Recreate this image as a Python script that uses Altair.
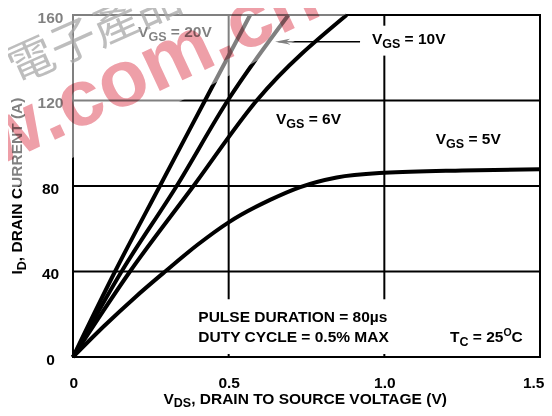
import altair as alt
import pandas as pd

# ---------------- data ----------------
id_levels = [0, 40, 80, 120, 160]
vds_20v = [0, 0.135, 0.279, 0.424, 0.569]
vds_10v = [0, 0.156, 0.333, 0.497, 0.692]
vds_6v = [0, 0.183, 0.387, 0.590, 0.879]
vds_5v = [0, 0.1, 0.2, 0.296, 0.4, 0.5, 0.633, 0.73, 0.847, 1.0, 1.25, 1.5]
id_5v = [0, 14.5, 28.0, 40, 52.5, 63.0, 73.5, 79.5, 84.0, 86.2, 87.3, 87.8]

x_ticks = [0, 0.5, 1.0, 1.5]
y_ticks = [0, 40, 80, 120, 160]

# grid segments (gridlines are interrupted behind the text boxes)
grid_x = [0, 0, 0, 0.5, 0.5, 1.0, 1.0, 1.0]
grid_x2 = [1.5, 1.5, 1.5, 0.5, 0.5, 1.0, 1.0, 1.0]
grid_y = [40, 80, 120, 27, 0, 27, 155, 0]
grid_y2 = [40, 80, 120, 160, 1.4, 141, 160, 1.4]

FONT = "Liberation Sans"
ADV = {' ': 278, ',': 278, '.': 278, '=': 584, '(': 333, ')': 333, '%': 889,
       'µ': 611, 's': 556,
       'A': 722, 'B': 722, 'C': 722, 'D': 722, 'E': 667, 'F': 611, 'G': 778,
       'H': 722, 'I': 278, 'J': 556, 'K': 722, 'L': 611, 'M': 833, 'N': 722,
       'O': 778, 'P': 667, 'Q': 778, 'R': 722, 'S': 667, 'T': 611, 'U': 722,
       'V': 667, 'W': 944, 'X': 667, 'Y': 667, 'Z': 611}
for d in "0123456789":
    ADV[d] = 556


def tw(s, size):
    return sum(ADV.get(c, 600) for c in s) * size / 1000.0


one = pd.DataFrame({"a": [0]})


def rich(pieces, x, y, angle=None, center=False):
    total = sum(tw(t, s) for t, s, _ in pieces)
    off = -total / 2 if center else 0
    out = []
    for t, s, dy in pieces:
        lead = len(t) - len(t.lstrip(" "))
        off += tw(" " * lead, s)
        t2 = t.lstrip(" ")
        props = dict(text=t2, fontSize=s, font=FONT, fontWeight="bold",
                     align="left", baseline="alphabetic", dx=off, dy=dy,
                     color="black")
        if angle is not None:
            props["angle"] = angle
        out.append(alt.Chart(one).mark_text(**props).encode(x=x, y=y))
        off += tw(t2, s)
    return out


curves = pd.DataFrame({
    "vds": vds_20v + vds_10v + vds_6v + vds_5v,
    "id": id_levels * 3 + id_5v,
    "vgs": ["20V"] * 5 + ["10V"] * 5 + ["6V"] * 5 + ["5V"] * len(vds_5v),
})

xscale = alt.Scale(domain=[0, 1.5], nice=False, zero=True)
yscale = alt.Scale(domain=[0, 160], nice=False)

grid = alt.Chart(pd.DataFrame({"x": grid_x, "x2": grid_x2, "y": grid_y, "y2": grid_y2})).mark_rule(
    color="black", strokeWidth=2
).encode(
    x=alt.X("x:Q", scale=xscale, title=None,
            axis=alt.Axis(values=x_ticks, labelExpr="datum.value == 0 ? '0' : format(datum.value, '.1f')",
                          labelPadding=18, labelBaseline="top", labelFlush=True, labelFlushOffset=4)),
    x2="x2:Q",
    y=alt.Y("y:Q", scale=yscale, title=None,
            axis=alt.Axis(values=y_ticks, labelAlign="center", labelPadding=23, labelBaseline="middle",
                          labelOffset=2)),
    y2="y2:Q",
)

lines = alt.Chart(curves).mark_line(color="black", strokeWidth=4, interpolate="monotone").encode(
    x=alt.X("vds:Q", scale=xscale, title=None),
    y=alt.Y("id:Q", scale=yscale, title=None),
    detail="vgs:N",
)

layers = [grid, lines]

MS, SS = 15.5, 12.5
for lab, xv, yv in [("20V", 0.209, 149.5), ("10V", 0.96, 146.3), ("6V", 0.652, 109.0), ("5V", 1.165, 99.6)]:
    layers += rich([("V", MS, 0), ("GS", SS, 4), (" = " + lab, MS, 0)],
                   alt.XDatum(xv), alt.YDatum(yv))

# arrow to the 10V curve
arrow = pd.DataFrame({"x": [0.922], "x2": [0.66], "y": [147.5]})
layers.append(alt.Chart(arrow).mark_rule(color="black", strokeWidth=1.5).encode(
    x="x:Q", x2="x2:Q", y="y:Q"))
layers.append(alt.Chart(one).mark_point(
    shape="M -1 0 L 1 -0.38 L 0.45 0 L 1 0.38 Z", size=225, filled=True,
    color="black", opacity=1).encode(x=alt.XDatum(0.673), y=alt.YDatum(147.5)))

layers += rich([("PULSE DURATION = 80µs", MS, 0)], alt.XDatum(0.4025), alt.YDatum(16.4))
layers += rich([("DUTY CYCLE = 0.5% MAX", MS, 0)], alt.XDatum(0.4025), alt.YDatum(7.0))
layers += rich([("T", MS, 0), ("C", SS, 4), (" = 25", MS, 0), ("O", 10.5, -6), ("C", MS, 0)],
               alt.XDatum(1.211), alt.YDatum(7.0))

# axis titles
layers += rich([("V", 15.5, 0), ("DS", 12.5, 2.5), (", DRAIN TO SOURCE VOLTAGE (V)", 15.5, 0)],
               alt.value(233.5), alt.value(389), center=True)
layers += rich([("I", 15.5, 0), ("D", 12.5, 4), (", DRAIN CURRENT (A)", 15.5, 0)],
               alt.value(-51.5), alt.value(171), angle=270, center=True)

# watermark: translucent white band, grey characters and pink letters
layers.append(alt.Chart(one).mark_point(
    shape="M -73 -15 L 300 -15 L -73 181 Z", size=4, filled=True,
    color="white", opacity=0.5, strokeWidth=0).encode(x=alt.value(0), y=alt.value(0)))
layers.append(alt.Chart(one).mark_text(
    text="電子產品", font="Noto Sans CJK TC", fontWeight="normal", fontSize=46,
    angle=336, align="center", baseline="middle", color="#a8a8a8", opacity=0.75
).encode(x=alt.value(22), y=alt.value(19)))
layers.append(alt.Chart(one).mark_text(
    text=".com.cn", font=FONT, fontWeight="bold", fontSize=80,
    angle=335, align="left", baseline="alphabetic", color="#ee9fa8", blend="multiply"
).encode(x=alt.value(-23), y=alt.value(127)))
layers.append(alt.Chart(one).mark_text(
    text="eepw", font=FONT, fontWeight="bold", fontSize=80,
    angle=335, align="right", baseline="alphabetic", color="#ee9fa8", blend="multiply"
).encode(x=alt.value(-23), y=alt.value(127)))

chart = alt.layer(*layers).properties(
    width=467, height=342,
    autosize=alt.AutoSizeParams(type="none"),
    padding={"left": 65, "top": 7, "right": 4, "bottom": 51},
).configure_view(
    stroke="black", strokeWidth=2
).configure_axis(
    domain=False, ticks=False, tickSize=0, grid=False,
    labelFont=FONT, labelFontWeight="bold", labelFontSize=15.5, labelColor="black",
)

chart.save("out.html", embed_options={"renderer": "svg", "actions": False})
